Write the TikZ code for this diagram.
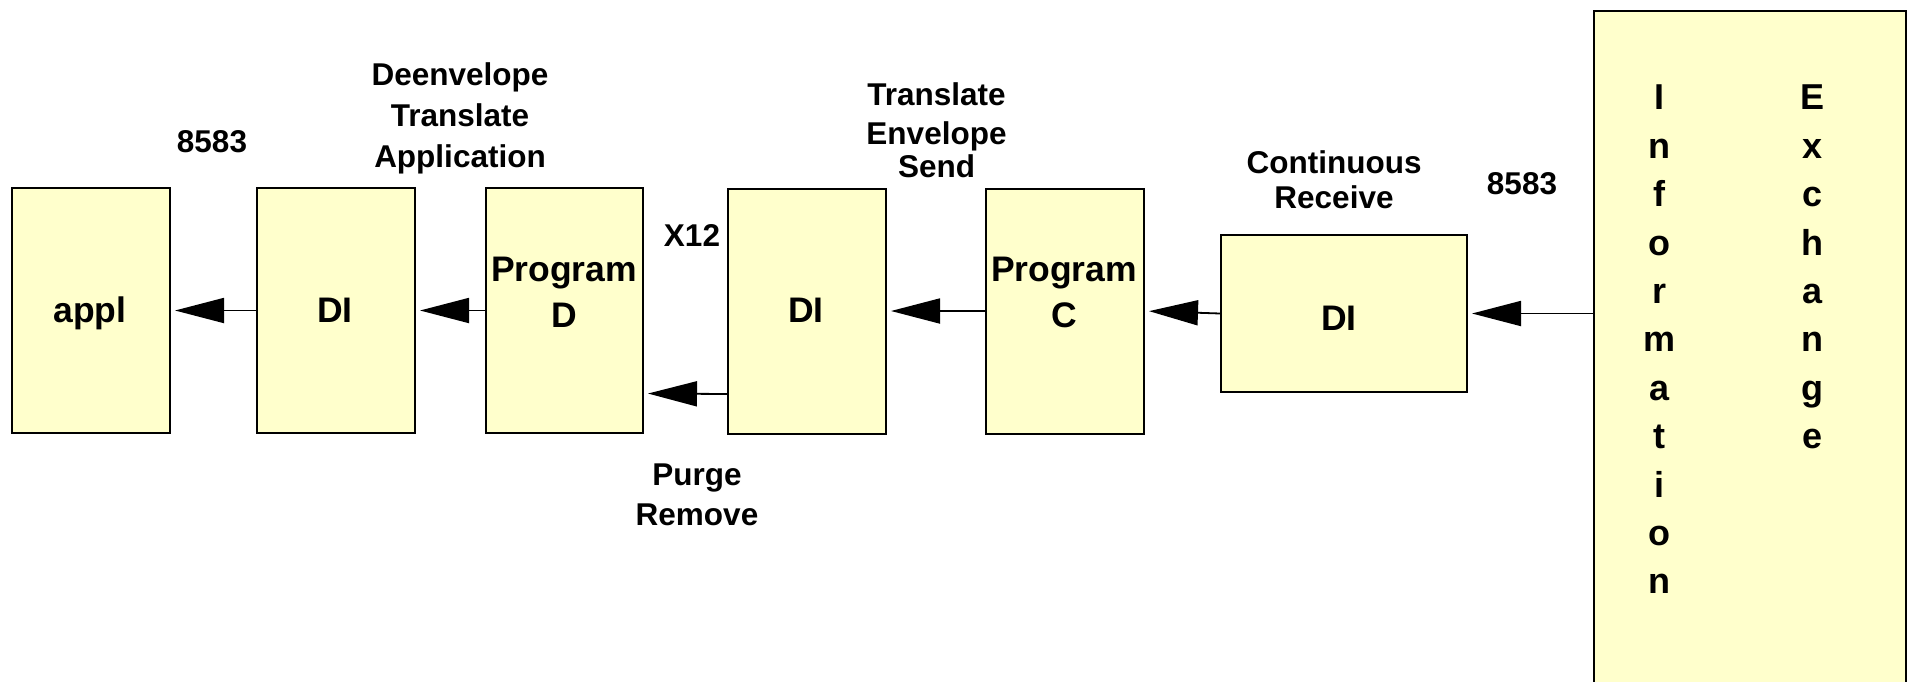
\documentclass[tikz,border=0pt]{standalone}
\usepackage{fontspec}
\setmainfont{Liberation Sans}
\usetikzlibrary{arrows.meta}
\definecolor{boxfill}{HTML}{FFFFCC}
\tikzset{
  box/.style={draw=black, line width=2pt, fill=boxfill, rectangle, inner sep=0pt},
  lbl/.style={font=\fontsize{31.5}{41}\selectfont\bfseries, align=center, inner sep=0pt, anchor=north},
  btxt/.style={font=\fontsize{35.5}{46}\selectfont\bfseries, align=center, inner sep=0pt, anchor=north},
  vtxt/.style={font=\fontsize{36}{48.4}\selectfont\bfseries, align=center, inner sep=0pt, anchor=north},
  arr/.style={line width=1.8pt, -{Triangle[length=49pt,width=25pt]}, shorten >=4pt}
}
\begin{document}
\begin{tikzpicture}[x=1pt,y=-1pt]
\fill[white] (0,0) rectangle (1915,681);
\useasboundingbox (0,0) rectangle (1915,681);
\clip (0,0) rectangle (1915,681);
% boxes
\node[box, minimum width=158pt, minimum height=245pt] (appl) at (91,310.5) {};
\node[box, minimum width=158pt, minimum height=245pt] (di1) at (336,310.5) {};
\node[box, minimum width=157pt, minimum height=245pt] (pd) at (564.5,310.5) {};
\node[box, minimum width=158pt, minimum height=245pt] (di2) at (807,311) {};
\node[box, minimum width=158pt, minimum height=245pt] (pc) at (1065,311) {};
\node[box, minimum width=246pt, minimum height=157pt] (di3) at (1344,313.5) {};
\node[box, minimum width=312pt, minimum height=700pt] (ex) at (1749.5,361) {};
% box texts
\node[btxt] (tappl) at (90,297) {appl};
\node[btxt] (tdi1) at (335,298) {DI};
\node[btxt] (tpd) at (564,257) {Program\\D};
\node[btxt] (tdi2) at (806,298) {DI};
\node[btxt] (tpc) at (1064,257) {Program\\C};
\node[btxt] (tdi3) at (1339,305.5) {DI};
\node[vtxt] (tinfo) at (1659,85) {I\\n\\f\\o\\r\\m\\a\\t\\i\\o\\n};
\node[vtxt] (texch) at (1812,85) {E\\x\\c\\h\\a\\n\\g\\e};
% labels
\node[lbl] (l8583a) at (212,130) {8583};
\node[lbl] (ldeenv) at (460,62) {Deenvelope\\Translate\\Application};
\node[lbl] (lx12) at (692,224) {X12};
\node[lbl] (ltrans) at (936.5,82) {Translate\\[-2pt]Envelope\\[-8pt]Send};
\node[lbl] (lpurge) at (697,464) {Purge\\[-1pt]Remove};
\node[lbl] (lcont) at (1334,150) {Continuous\\[-6pt]Receive};
\node[lbl] (l8583b) at (1522,172) {8583};
% connectors
\draw[arr] (di1.west) -- (appl.east);
\draw[arr] (pd.west) -- (di1.east);
\draw[arr] ([yshift=-83pt]di2.west) -- ([yshift=-83pt]pd.east);
\draw[arr] (pc.west) -- (di2.east);
\draw[arr] (di3.west) -- (pc.east);
\draw[arr] (ex.west |- di3.east) -- (di3.east);
\end{tikzpicture}
\end{document}
